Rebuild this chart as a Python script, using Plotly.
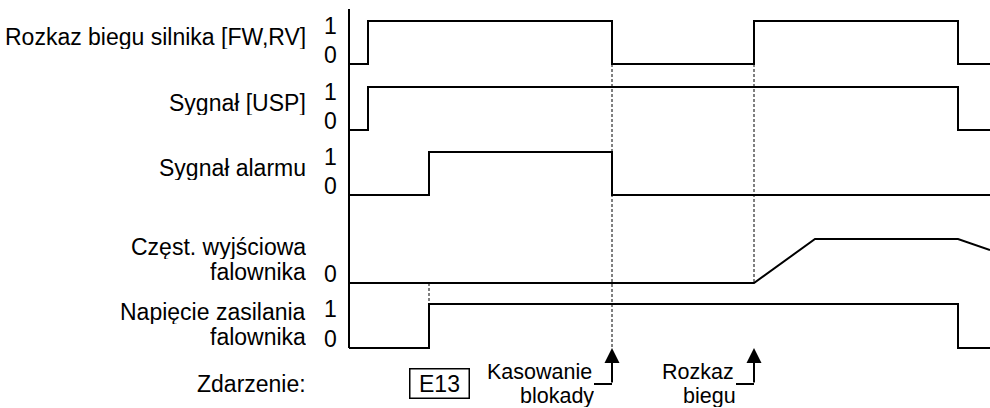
import plotly.graph_objects as go

# ---------------- data ----------------
row_labels = [
    ["Rozkaz biegu silnika [FW,RV]"],
    ["Sygnał [USP]"],
    ["Sygnał alarmu"],
    ["Częst. wyjściowa", "falownika"],
    ["Napięcie zasilania", "falownika"],
]
event_label = "Zdarzenie:"

# time instants (arbitrary units)
T_RUN_ON = 1.9
T_TRIP = 8.0
T_RESET = 26.3
T_RUN2_ON = 40.5
T_ACC_END = 46.6
T_STOP = 60.9
T_END = 64.1

run_cmd_t = [0, 1.9, 1.9, 26.3, 26.3, 40.5, 40.5, 60.9, 60.9, 64.1]
run_cmd_v = [0, 0, 1, 1, 0, 0, 1, 1, 0, 0]
usp_t = [0, 1.9, 1.9, 60.9, 60.9, 64.1]
usp_v = [0, 0, 1, 1, 0, 0]
alarm_t = [0, 8.0, 8.0, 26.3, 26.3, 64.1]
alarm_v = [0, 0, 1, 1, 0, 0]
freq_t = [0, 40.5, 46.6, 60.9, 64.1]
freq_v = [0, 0, 1, 1, 0.75]
power_t = [0, 8.0, 8.0, 60.9, 60.9, 64.1]
power_v = [0, 0, 1, 1, 0, 0]

tick_labels = [["1", "0"], ["1", "0"], ["1", "0"], [None, "0"], ["1", "0"]]

error_code = "E13"
reset_label = ["Kasowanie", "blokady"]
run_label = ["Rozkaz", "biegu"]

# ---------------- layout geometry ----------------
W, H = 990, 408
base_px = [64, 130, 195, 283, 348]
high_px = [21, 87, 152, 239, 304]
PAD = 0.12
FONT = dict(family="Arial, Liberation Sans, sans-serif", size=23, color="black")
EV_FONT = dict(family="Arial, Liberation Sans, sans-serif", size=21.5, color="black")


def py(p):
    return 1 - p / H


series = [(run_cmd_t, run_cmd_v), (usp_t, usp_v), (alarm_t, alarm_v),
          (freq_t, freq_v), (power_t, power_v)]

fig = go.Figure()
layout_axes = {}
for i, (tt, vv) in enumerate(series):
    yname = "y" if i == 0 else f"y{i+1}"
    fig.add_trace(go.Scatter(x=tt, y=vv, mode="lines", xaxis="x", yaxis=yname,
                             line=dict(color="black", width=2), hoverinfo="skip",
                             showlegend=False))
    span = base_px[i] - high_px[i]
    top = high_px[i] - PAD * span
    bot = base_px[i] + PAD * span
    layout_axes["yaxis" if i == 0 else f"yaxis{i+1}"] = dict(
        domain=[py(bot), py(top)], range=[-PAD, 1 + PAD], anchor="x",
        visible=False, fixedrange=True)

X0_PX = 344
fig.update_layout(
    width=W, height=H, margin=dict(l=0, r=0, t=0, b=0),
    paper_bgcolor="white", plot_bgcolor="rgba(0,0,0,0)",
    xaxis=dict(domain=[X0_PX / W, 1], range=[-0.5, T_END], visible=False,
               fixedrange=True),
    showlegend=False,
    **layout_axes,
)

shapes = []
annotations = []

# vertical axis line
shapes.append(dict(type="line", xref="x", yref="paper", x0=0, x1=0,
                   y0=py(348), y1=py(9), line=dict(color="black", width=2)))

# dashed guide lines
dash = dict(color="black", width=1, dash="3px,2px")
shapes.append(dict(type="line", xref="x", yref="paper", x0=T_RESET, x1=T_RESET,
                   y0=py(base_px[0]), y1=py(base_px[4]), line=dash))
shapes.append(dict(type="line", xref="x", yref="paper", x0=T_RUN2_ON, x1=T_RUN2_ON,
                   y0=py(base_px[0]), y1=py(base_px[3]), line=dash))
shapes.append(dict(type="line", xref="x", yref="paper", x0=T_TRIP, x1=T_TRIP,
                   y0=py(base_px[3]), y1=py(high_px[4]), line=dash))

# row labels
for i, lines in enumerate(row_labels):
    if len(lines) == 1:
        centers = [base_px[i] - 27]
    else:
        centers = [base_px[i] - 36, base_px[i] - 11]
    for txt, c in zip(lines, centers):
        annotations.append(dict(text=txt, xref="paper", yref="paper", x=308 / W,
                                y=py(c), xanchor="right", yanchor="middle",
                                showarrow=False, font=FONT, height=24))
annotations.append(dict(text=event_label, xref="paper", yref="paper", x=308 / W,
                        y=py(384), xanchor="right", yanchor="middle",
                        showarrow=False, font=FONT))

# tick labels 1 / 0
for i, (one, zero) in enumerate(tick_labels):
    yname = "y" if i == 0 else f"y{i+1}"
    if one:
        annotations.append(dict(text=one, xref="paper", yref=yname, x=339 / W, y=1,
                                xanchor="right", yanchor="middle", yshift=-5,
                                showarrow=False, font=FONT))
    annotations.append(dict(text=zero, xref="paper", yref=yname, x=339 / W, y=0,
                            xanchor="right", yanchor="middle", yshift=9,
                            showarrow=False, font=FONT))

# events
ARROW_Y = 384
for t, lbl in [(T_RESET, reset_label), (T_RUN2_ON, run_label)]:
    annotations.append(dict(text="", xref="x", yref="paper", x=t, y=py(base_px[4]),
                            axref="pixel", ayref="pixel", ax=0, ay=ARROW_Y - base_px[4],
                            showarrow=True, arrowhead=2, arrowsize=1.5, arrowwidth=2,
                            arrowcolor="black", standoff=0))
    shapes.append(dict(type="line", xref="x", yref="paper", x0=t - 1.8, x1=t,
                       y0=py(ARROW_Y), y1=py(ARROW_Y), line=dict(color="black", width=2)))
    annotations.append(dict(text=lbl[0], xref="x", yref="paper", x=t - 1.8, y=py(372),
                            xanchor="right", yanchor="middle", showarrow=False,
                            font=EV_FONT, height=22))
    annotations.append(dict(text=lbl[1], xref="x", yref="paper", x=t - 1.6, y=py(396),
                            xanchor="right", yanchor="middle", showarrow=False,
                            font=EV_FONT, height=22))

annotations.append(dict(text=error_code, xref="x", yref="paper", x=T_TRIP + 1.05,
                        y=py(383.5), xanchor="center", yanchor="middle", showarrow=False,
                        font=FONT, bordercolor="black", borderwidth=1.5, borderpad=2,
                        width=54, height=24))

fig.update_layout(shapes=shapes, annotations=annotations)
fig.write_html("out.html", config={"displayModeBar": False},
               post_script="document.body.style.margin='0';document.body.style.overflow='hidden';")
